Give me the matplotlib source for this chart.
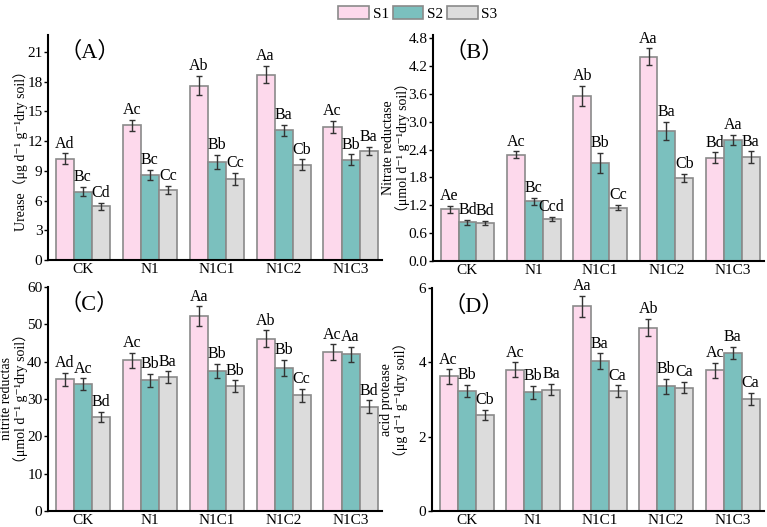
import matplotlib
matplotlib.use("Agg")
import matplotlib.pyplot as plt
import numpy as np

plt.rcParams['font.family'] = ['Liberation Serif', 'Noto Sans CJK SC', 'DejaVu Sans']

groups = ["CK", "N1", "N1C1", "N1C2", "N1C3"]
series = ["S1", "S2", "S3"]
colors = ["#FDD9EC", "#7BC0BE", "#DCDCDC"]

# (A) urease
urease = [[10.2, 13.6, 17.6, 18.7, 13.4],
          [6.9, 8.6, 9.9, 13.1, 10.1],
          [5.4, 7.1, 8.2, 9.6, 11.0]]
urease_err = [[0.55, 0.55, 0.95, 0.85, 0.62],
              [0.45, 0.5, 0.7, 0.55, 0.55],
              [0.35, 0.4, 0.6, 0.55, 0.45]]
urease_lab = [["Ad", "Ac", "Ab", "Aa", "Ac"],
              ["Bc", "Bc", "Bb", "Ba", "Bb"],
              ["Cd", "Cc", "Cc", "Cb", "Ba"]]

# (B) nitrate reductase
nitrate = [[1.11, 2.29, 3.55, 4.40, 2.22],
           [0.83, 1.28, 2.11, 2.80, 2.60],
           [0.82, 0.90, 1.15, 1.79, 2.24]]
nitrate_err = [[0.07, 0.07, 0.22, 0.18, 0.12],
               [0.06, 0.08, 0.22, 0.19, 0.11],
               [0.05, 0.05, 0.06, 0.09, 0.12]]
nitrate_lab = [["Ae", "Ac", "Ab", "Aa", "Bd"],
               ["Bd", "Bc", "Bb", "Ba", "Aa"],
               ["Bd", "Ccd", "Cc", "Cb", "Ba"]]

# (C) nitrite reductase
nitrite = [[35.3, 40.4, 52.2, 46.1, 42.5],
           [34.0, 35.0, 37.5, 38.3, 42.0],
           [25.2, 35.9, 33.4, 31.0, 27.9]]
nitrite_err = [[1.7, 2.0, 2.6, 2.3, 2.1],
               [1.5, 1.8, 1.9, 2.1, 2.0],
               [1.3, 1.5, 1.6, 1.7, 1.7]]
nitrite_lab = [["Ad", "Ac", "Aa", "Ab", "Ac"],
               ["Ac", "Bb", "Bb", "Bb", "Aa"],
               ["Bd", "Ba", "Bb", "Cc", "Bd"]]

# (D) acid protease
protease = [[3.62, 3.80, 5.51, 4.93, 3.79],
            [3.23, 3.19, 4.03, 3.35, 4.25],
            [2.59, 3.26, 3.22, 3.32, 3.01]]
protease_err = [[0.19, 0.2, 0.28, 0.23, 0.2],
                [0.17, 0.17, 0.21, 0.21, 0.17],
                [0.13, 0.15, 0.16, 0.15, 0.16]]
protease_lab = [["Ac", "Ac", "Aa", "Ab", "Ac"],
                ["Bb", "Bb", "Ba", "Bb", "Ba"],
                ["Cb", "Ba", "Ca", "Ca", "Ca"]]

panels = [
    ("（A）", urease, urease_err, urease_lab, 22.7, np.arange(0, 22, 3), "%d",
     "Urease（μg d⁻¹ g⁻¹dry soil）"),
    ("（B）", nitrate, nitrate_err, nitrate_lab, 4.87, np.arange(0, 4.81, 0.6), "%.1f",
     "Nitrate reductase\n（μmol d⁻¹ g⁻¹dry soil）"),
    ("（C）", nitrite, nitrite_err, nitrite_lab, 60, np.arange(0, 61, 10), "%d",
     "nitrite reductas\n（μmol d⁻¹ g⁻¹dry soil）"),
    ("（D）", protease, protease_err, protease_lab, 6, np.arange(0, 6.1, 2), "%d",
     "acid protease\n（μg d⁻¹ g⁻¹dry soil）"),
]

rects = [[0.0626, 0.5066, 0.4355, 0.427],
         [0.5645, 0.5050, 0.4315, 0.4286],
         [0.0626, 0.0304, 0.4355, 0.4250],
         [0.5632, 0.0304, 0.4328, 0.4231]]
label_x = [-0.06, -0.07, -0.06, -0.072]

fig = plt.figure(figsize=(7.67, 5.27), dpi=100)
x = np.arange(len(groups))
w = 0.27

for rect, lx, (tag, vals, errs, labs, ymax, ticks, fmt, ylab) in zip(rects, label_x, panels):
    ax = fig.add_axes(rect)
    for i in range(3):
        pos = x + (i - 1) * w
        ax.bar(pos, vals[i], w, color=colors[i], edgecolor="#8A8A8A", linewidth=1.2,
               yerr=errs[i], error_kw=dict(ecolor="#333333", elinewidth=1.0, capsize=2, capthick=1.0),
               label=series[i], zorder=2)
        for p, v, e, t in zip(pos, vals[i], errs[i], labs[i]):
            ax.text(p, v + e + ymax * 0.008, t, ha="center", va="bottom", fontsize=11.5)
    ax.set_xlim(-0.52, 4.47)
    ax.set_ylim(0, ymax)
    ax.set_yticks(ticks)
    ax.yaxis.set_major_formatter(matplotlib.ticker.FormatStrFormatter(fmt))
    ax.set_xticks(x)
    ax.set_xticklabels(groups)
    ax.tick_params(axis="y", direction="out", length=3, width=1, labelsize=11, pad=1)
    ax.tick_params(axis="x", direction="in", length=3, width=1, labelsize=11, pad=2)
    for s in ["top", "right"]:
        ax.spines[s].set_visible(False)
    for s in ["left", "bottom"]:
        ax.spines[s].set_linewidth(1.5)
    ax.set_ylabel(ylab, fontsize=10, linespacing=1.0)
    ax.yaxis.set_label_coords(lx, 0.5)
    ax.text(0.035, 0.97 if tag != "（D）" else 0.965, tag, transform=ax.transAxes,
            fontsize=16, va="top", ha="left")

handles = [plt.Rectangle((0, 0), 1, 1, facecolor=c, edgecolor="#8A8A8A", linewidth=1.2) for c in colors]
fig.legend(handles, series, loc="upper center", bbox_to_anchor=(0.545, 1.012), ncol=3,
           frameon=False, fontsize=11, handlelength=2.0, handleheight=0.95,
           handletextpad=0.25, columnspacing=0.25, borderpad=0.3)

fig.savefig("out.png", dpi=100)
